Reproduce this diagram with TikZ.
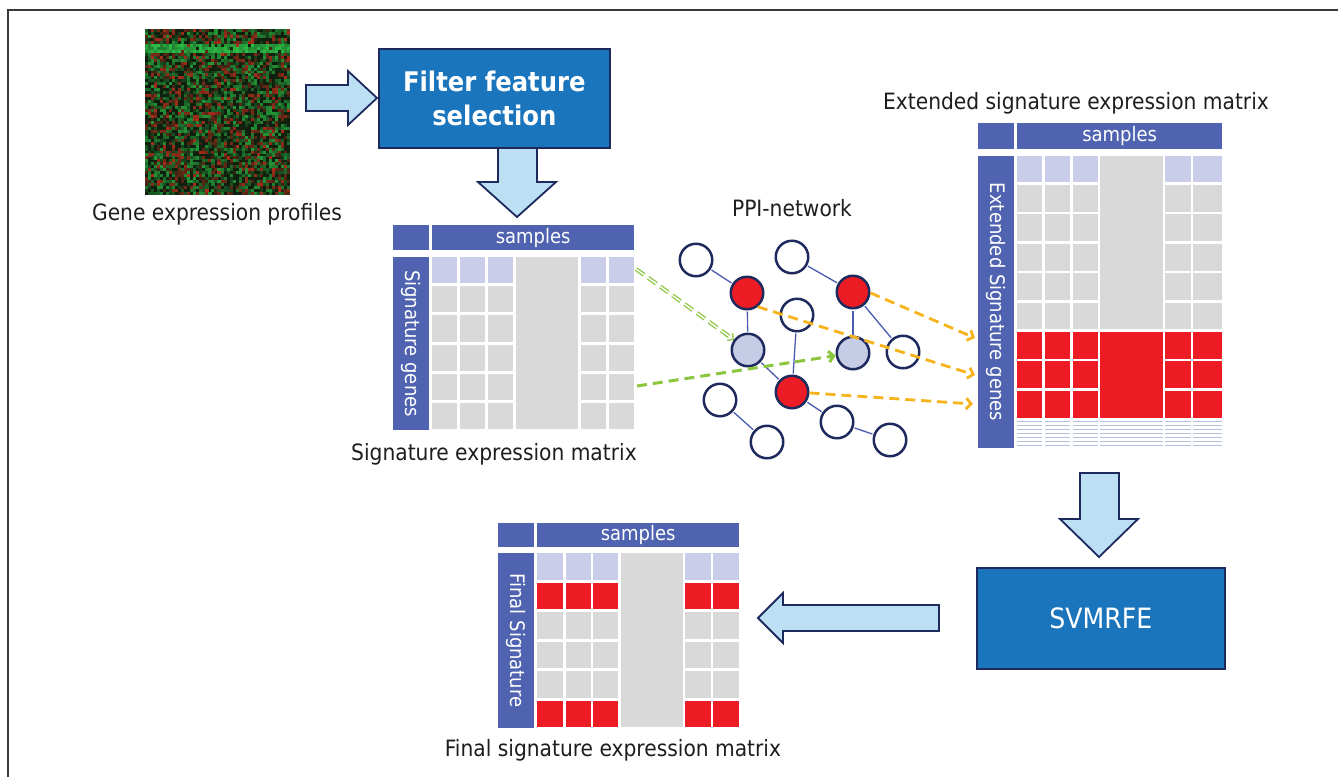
\documentclass[tikz,border=0pt]{standalone}
\usepackage{fontspec}
\setmainfont{DejaVu Sans Condensed}
\usetikzlibrary{arrows.meta}
\definecolor{boxblue}{HTML}{1B75BC}
\definecolor{navy}{HTML}{1E2A5E}
\definecolor{arrowfill}{HTML}{BCDFF4}
\definecolor{hdrblue}{HTML}{4F63B0}
\definecolor{lavc}{HTML}{C9CDE9}
\definecolor{grayc}{HTML}{D9D9D9}
\definecolor{redc}{HTML}{ED1C24}
\definecolor{circlav}{HTML}{C6CBE6}
\definecolor{edgec}{HTML}{4A5BB0}
\definecolor{orangec}{HTML}{F7B31C}
\definecolor{greenc}{HTML}{8CC63F}
\definecolor{framec}{HTML}{3A3A3A}
\definecolor{txtc}{HTML}{1E1E1E}
\definecolor{hmgreen}{HTML}{2EC84A}
\definecolor{hmred}{HTML}{D0301E}
\definecolor{hmdark}{HTML}{10200F}
\begin{document}
\begin{tikzpicture}[x=1pt,y=-1pt,
  lbl/.style={font=\fontsize{22.5}{26}\selectfont, text=txtc, inner sep=0pt},
  hdr/.style={fill=hdrblue, text=white, font=\fontsize{20}{22}\selectfont, inner sep=0pt},
  procbox/.style={fill=boxblue, draw=navy, line width=1.6pt, text=white, align=center, inner sep=0pt},
  blockarrow/.style={fill=arrowfill, draw=navy, line width=1.8pt, line join=miter},
  gene/.style={circle, draw=navy, line width=2.5pt, minimum size=32.5pt, inner sep=0pt, fill=white},
  ppi/.style={draw=edgec, line width=1.3pt, shorten <=1pt, shorten >=1pt},
  oarrow/.style={draw=orangec, line width=2.8pt, dash pattern=on 10pt off 6pt, -{Straight Barb[length=5pt,width=11pt]}},
  garrow/.style={draw=greenc, line width=3pt, dash pattern=on 10pt off 6pt, -{Straight Barb[length=5pt,width=11pt]}},
  gdouble/.style={draw=greenc, line width=1.3pt, double=white, double distance=1.5pt, dash pattern=on 10pt off 5pt, -{Straight Barb[length=4pt,width=9pt]}}
]
\useasboundingbox (0,0) rectangle (1338,777);
\fill[white] (0,0) rectangle (1338,777);
\draw[framec, line width=1.6pt] (8,777) -- (8,10) -- (1338,10);

% ---------- heat map ----------
\fill[hmdark] (145,29) rectangle (290,195);
\pgfmathsetseed{4242}
\foreach \i in {0,...,47}{
  \foreach \j in {0,...,55}{
    \pgfmathsetmacro\hmr{rnd}
    \pgfmathsetmacro\hmt{(\j>4 && \j<8) ? 0.92 : 0.42}
    \pgfmathtruncatemacro\hmg{(\j>4 && \j<8) ? 55+40*rnd : 15+55*rnd}
    \ifdim\hmr pt<\hmt pt
      \fill[hmgreen!\hmg!hmdark] (145+\i*3.02,29+\j*2.964) rectangle ++(3.1,3.05);
    \else
      \pgfmathsetmacro\hms{rnd}
      \ifdim\hms pt<0.5pt
        \pgfmathtruncatemacro\hmd{20+60*rnd}
        \fill[hmred!\hmd!hmdark] (145+\i*3.02,29+\j*2.964) rectangle ++(3.1,3.05);
      \fi
    \fi
  }
}
\node[minimum width=145pt, minimum height=166pt, anchor=north west, inner sep=0pt] (heat) at (145,29) {};
\node[lbl] (heatlbl) at (217,214) {Gene expression profiles};

% ---------- block arrows ----------
\draw[blockarrow] (306,85) -- (348,85) -- (348,71) -- (377,98) -- (348,125) -- (348,111) -- (306,111) -- cycle;
\draw[blockarrow] (498,146) -- (498,182) -- (478,182) -- (517,217) -- (556,182) -- (537,182) -- (537,146) -- cycle;
\draw[blockarrow] (1080,473) -- (1080,519) -- (1060,519) -- (1099,557) -- (1138,519) -- (1119,519) -- (1119,473) -- cycle;
\draw[blockarrow] (939,605) -- (783,605) -- (783,593) -- (758,618) -- (783,643) -- (783,631) -- (939,631) -- cycle;

% ---------- process boxes ----------
\node[procbox, minimum width=231pt, minimum height=99pt, anchor=north west,
      font=\bfseries\fontsize{27}{34}\selectfont] (filter) at (378,48) {Filter feature\\selection};
\node[procbox, minimum width=248pt, minimum height=101pt, anchor=north west,
      font=\fontsize{28}{34}\selectfont] (svm) at (976,567) {SVMRFE};

% ---------- signature matrix ----------
\node[hdr, minimum width=36pt, minimum height=25pt, anchor=north west] (sigcorner) at (393,225) {};
\node[hdr, minimum width=202pt, minimum height=25pt, anchor=north west] (sigsamples) at (432,225) {samples};
\node[hdr, rotate=-90, minimum width=173pt, minimum height=36pt] (sigside) at (411,343.5) {Signature genes};
\foreach \a/\b in {39/64,67/92,95/120,188/213,216/241}
  \foreach \k/\c in {0/lavc,1/grayc,2/grayc,3/grayc,4/grayc,5/grayc}
    \fill[\c] (393+\a,257+\k*29.2) rectangle (393+\b,257+\k*29.2+26.2);
\fill[grayc] (393+123,257) rectangle (393+185,429.2);
\node[lbl] (siglbl) at (494,454) {Signature expression matrix};

% ---------- extended matrix ----------
\node[lbl] (extlbl) at (1076,103) {Extended signature expression matrix};
\node[hdr, minimum width=36pt, minimum height=26pt, anchor=north west] (extcorner) at (978,123) {};
\node[hdr, minimum width=205pt, minimum height=26pt, anchor=north west] (extsamples) at (1017,123) {samples};
\node[hdr, rotate=-90, minimum width=292pt, minimum height=36pt] (extside) at (996,302) {Extended Signature genes};
\foreach \a/\b in {39/64,67/92,95/120,187/213,215/244}
  \foreach \k/\c in {0/lavc,1/grayc,2/grayc,3/grayc,4/grayc,5/grayc,6/redc,7/redc,8/redc}
    \fill[\c] (978+\a,155.5+\k*29.4) rectangle (978+\b,155.5+\k*29.4+26.8);
\fill[grayc] (978+122,155.5) rectangle (978+185,329.3);
\fill[redc] (978+122,331.9) rectangle (978+185,417.5);
\foreach \a/\b in {39/64,67/92,95/120,122/185,187/213,215/244}
  \foreach \s in {0,...,6}
    \fill[lavc!85!hdrblue] (978+\a,420.5+\s*4) rectangle (978+\b,422.3+\s*4);

% ---------- final matrix ----------
\node[hdr, minimum width=36pt, minimum height=24pt, anchor=north west] (fincorner) at (498,523) {};
\node[hdr, minimum width=202pt, minimum height=24pt, anchor=north west] (finsamples) at (537,523) {samples};
\node[hdr, rotate=-90, minimum width=175pt, minimum height=36pt] (finside) at (516,640.5) {Final Signature};
\foreach \a/\b in {39/65,68/93,95/120,187/213,215/241}
  \foreach \k/\c in {0/lavc,1/redc,2/grayc,3/grayc,4/grayc,5/redc}
    \fill[\c] (498+\a,553+\k*29.5) rectangle (498+\b,553+\k*29.5+26.5);
\fill[grayc] (498+123,553) rectangle (498+185,727);
\node[lbl] (finlbl) at (613,750) {Final signature expression matrix};

% ---------- PPI network ----------
\node[lbl] (ppilbl) at (792,208) {PPI-network};
\node[gene] (A) at (696,260) {};
\node[gene] (B) at (792,257) {};
\node[gene, fill=redc] (C) at (747,293) {};
\node[gene, fill=redc] (D) at (853,292) {};
\node[gene] (E) at (797,315) {};
\node[gene, fill=circlav] (F) at (748,350) {};
\node[gene, fill=circlav] (G) at (853,353) {};
\node[gene] (H) at (903,352) {};
\node[gene, fill=redc] (I) at (792,392) {};
\node[gene] (J) at (720,400) {};
\node[gene] (K) at (767,442) {};
\node[gene] (L) at (837,422) {};
\node[gene] (M) at (890,440) {};
\draw[ppi] (A) -- (C);
\draw[ppi] (B) -- (D);
\draw[ppi] (C) -- (F);
\draw[ppi] (D) -- (G);
\draw[ppi] (D) -- (H);
\draw[ppi] (E) -- (I);
\draw[ppi] (F) -- (I);
\draw[ppi] (I) -- (L);
\draw[ppi] (L) -- (M);
\draw[ppi] (J) -- (K);

% ---------- dashed arrows ----------
\coordinate (gs1) at (636,269);
\coordinate (gs2) at (637,386);
\coordinate (e1) at (975,375);
\coordinate (e2) at (975,338);
\coordinate (e3) at (973,404);
\draw[gdouble] (gs1) -- (F);
\draw[garrow] (gs2) -- (G);
\draw[oarrow] (C.-52) -- (e1);
\draw[oarrow] (D.-3) -- (e2);
\draw[oarrow] (I.-3) -- (e3);
\end{tikzpicture}
\end{document}
